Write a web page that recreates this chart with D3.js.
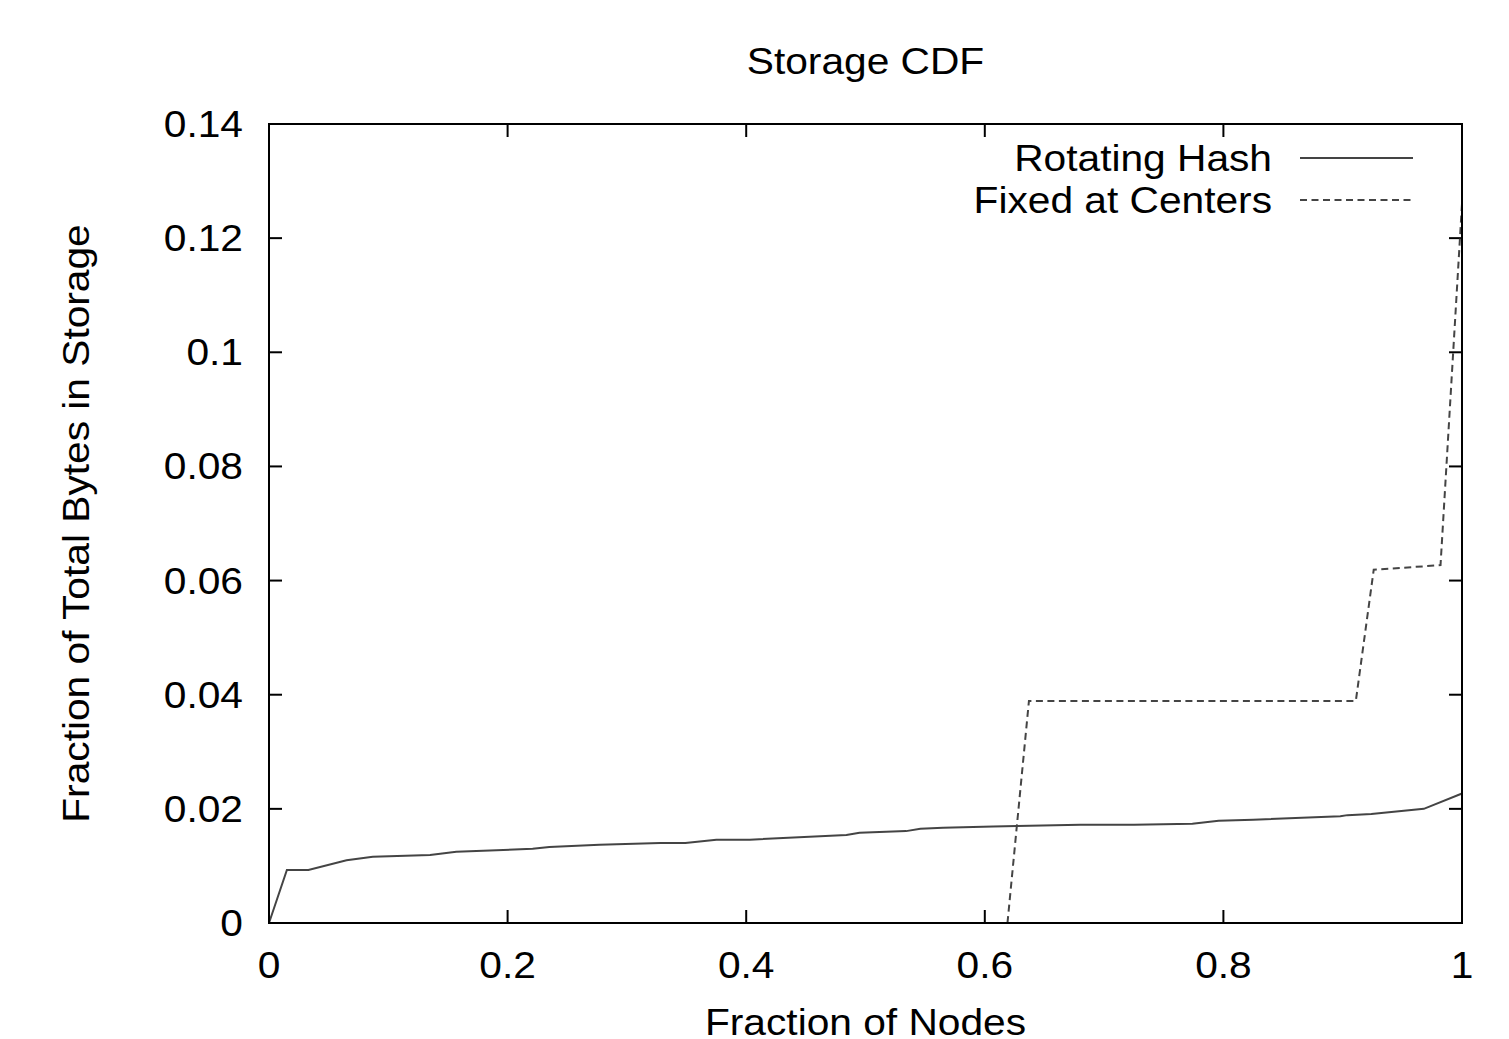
<!DOCTYPE html>
<meta charset="utf-8">
<style>
  body { margin: 0; background: #fff; }
  text { font-family: "Liberation Sans", Arial, sans-serif; fill: #000; }
</style>
<svg width="1509" height="1039"></svg>
<script src="https://d3js.org/d3.v7.min.js"></script>
<script>
var xTicks = [0, 0.2, 0.4, 0.6, 0.8, 1]
var yTicks = [0, 0.02, 0.04, 0.06, 0.08, 0.1, 0.12, 0.14]
var xTickLabels = ["0", "0.2", "0.4", "0.6", "0.8", "1"]
var yTickLabels = ["0", "0.02", "0.04", "0.06", "0.08", "0.1", "0.12", "0.14"]

// Rotating Hash
var hashX = [0, 0.015, 0.033, 0.065, 0.087, 0.135, 0.157, 0.221, 0.235, 0.277, 0.328, 0.349, 0.375, 0.403,
  0.484, 0.495, 0.534, 0.546, 0.565, 0.607, 0.627, 0.680, 0.725, 0.774, 0.796, 0.825, 0.898, 0.904, 0.924, 0.968, 1.0]
var hashY = [0, 0.0093, 0.0093, 0.0110, 0.0116, 0.0119, 0.0125, 0.0130, 0.0133, 0.0137, 0.0140, 0.0140, 0.0146, 0.0146,
  0.0154, 0.0158, 0.0161, 0.0165, 0.0167, 0.0169, 0.0170, 0.0172, 0.0172, 0.0174, 0.0179, 0.0181, 0.0187, 0.0189, 0.0191, 0.0200, 0.0227]

// Fixed at Centers
var fixedX = [0.619, 0.637, 0.911, 0.926, 0.982, 1.0]
var fixedY = [0, 0.0389, 0.0389, 0.0619, 0.0627, 0.126]

var svg = d3.select("svg")
var x = d3.scaleLinear().domain([0, 1]).range([269, 1462])
var y = d3.scaleLinear().domain([0, 0.14]).range([923, 124])
var fs = 37, stretch = 1.1, tickLen = 13

// text drawn a bit wider than tall, like the original
function label(g, px, py, str, anchor, rot) {
  return g.append("text")
    .attr("transform", "translate(" + px + "," + py + ")" + (rot ? " rotate(" + rot + ")" : "") + " scale(" + stretch + ",1)")
    .attr("text-anchor", anchor || "middle")
    .attr("font-size", fs)
    .text(str)
}

var axes = svg.append("g")
// ticks, mirrored on all sides
xTicks.forEach(function (t, i) {
  axes.append("line").attr("x1", x(t)).attr("x2", x(t)).attr("y1", y(0)).attr("y2", y(0) - tickLen)
  axes.append("line").attr("x1", x(t)).attr("x2", x(t)).attr("y1", y(0.14)).attr("y2", y(0.14) + tickLen)
  label(axes, x(t), 978, xTickLabels[i], "middle")
})
yTicks.forEach(function (t, i) {
  axes.append("line").attr("x1", x(0)).attr("x2", x(0) + tickLen).attr("y1", y(t)).attr("y2", y(t))
  axes.append("line").attr("x1", x(1)).attr("x2", x(1) - tickLen).attr("y1", y(t)).attr("y2", y(t))
  label(axes, 243, y(t) + 13, yTickLabels[i], "end")
})
axes.selectAll("line").attr("stroke", "#000").attr("stroke-width", 2)

var line = d3.line().x(function (d) { return x(d[0]) }).y(function (d) { return y(d[1]) })
var hash = hashX.map(function (v, i) { return [v, hashY[i]] })
var fixed = fixedX.map(function (v, i) { return [v, fixedY[i]] })

svg.append("path").datum(hash).attr("d", line)
  .attr("fill", "none").attr("stroke", "#444").attr("stroke-width", 2)
svg.append("path").datum(fixed).attr("d", line)
  .attr("fill", "none").attr("stroke", "#444").attr("stroke-width", 2).attr("stroke-dasharray", "7,4.5")

// frame
svg.append("rect")
  .attr("x", x(0)).attr("y", y(0.14)).attr("width", x(1) - x(0)).attr("height", y(0) - y(0.14))
  .attr("fill", "none").attr("stroke", "#000").attr("stroke-width", 2)

// legend
var leg = svg.append("g")
label(leg, 1272, 171, "Rotating Hash", "end")
label(leg, 1272, 213, "Fixed at Centers", "end")
leg.append("line").attr("x1", 1300).attr("x2", 1413).attr("y1", 158).attr("y2", 158)
  .attr("stroke", "#444").attr("stroke-width", 2)
leg.append("line").attr("x1", 1300).attr("x2", 1413).attr("y1", 200).attr("y2", 200)
  .attr("stroke", "#444").attr("stroke-width", 2).attr("stroke-dasharray", "7,4.5")

// titles
label(svg, (x(0) + x(1)) / 2, 74, "Storage CDF", "middle")
label(svg, (x(0) + x(1)) / 2, 1035, "Fraction of Nodes", "middle")
label(svg, 89, (y(0) + y(0.14)) / 2, "Fraction of Total Bytes in Storage", "middle", -90)
</script>
